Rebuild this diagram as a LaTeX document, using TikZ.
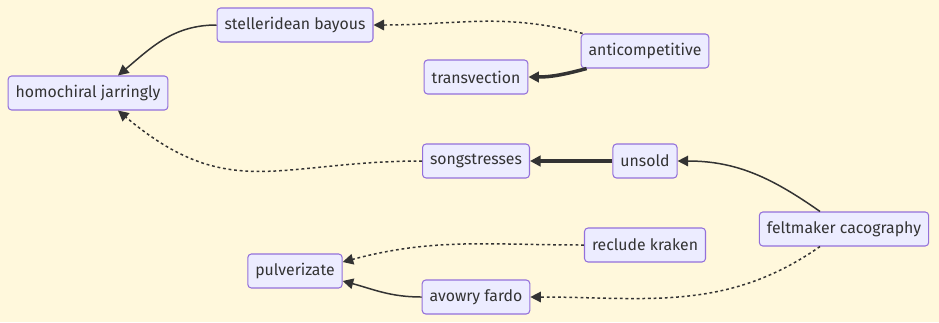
\documentclass[tikz,border=0pt]{standalone}
\usepackage{fontspec}
\setmainfont{Fira Sans}
\usetikzlibrary{arrows.meta,calc,positioning}
\definecolor{paper}{HTML}{FFF8DC}
\definecolor{boxfill}{HTML}{ECECFF}
\definecolor{boxline}{HTML}{9370DB}
\definecolor{ink}{HTML}{333333}

\begin{document}
\begin{tikzpicture}[x=0.02cm,y=-0.02cm,>={Triangle[length=6pt,width=6pt]},
    box/.style={draw=boxline,fill=boxfill,line width=0.6pt,rounded corners=2pt,
        minimum height=0.68cm,inner xsep=0.15cm,text=ink,font=\fontsize{9}{11}\selectfont},
    link/.style={draw=ink,line width=0.85pt,->},
    heavy/.style={link,line width=2pt},
    weak/.style={link,dash pattern=on 1.6pt off 1.6pt}]
    \fill[paper] (0,0) rectangle (939,322);
    \node[box] at (88,93) (homo) {homochiral jarringly};
    \node[box] at (295,25) (stell) {stelleridean bayous};
    \node[box] at (645,51) (anti) {anticompetitive};
    \node[box] at (476,77) (trans) {transvection};
    \node[box] at (476,161) (songs) {songstresses};
    \node[box] at (645,161) (unsold) {unsold};
    \node[box] at (844,229) (felt) {feltmaker cacography};
    \node[box] at (645,245) (recl) {reclude kraken};
    \node[box] at (295,271) (pulv) {pulverizate};
    \node[box] at (476,297) (avow) {avowry fardo};

    \path (stell.west) edge[link,out=180,in=40] ($(homo.north)+(30,0)$);
    \path ($(anti.north west)+(2,0)$) edge[weak,out=165,in=0] (stell.east);
    \path ($(anti.south west)+(6,0)$) edge[heavy,out=195,in=0] (trans.east);
    \path (songs.west) edge[weak,out=180,in=-40,looseness=1.2] ($(homo.south)+(30,0)$);
    \path (unsold.west) edge[heavy] (songs.east);
    \path ($(felt.north)+(-24,0)$) edge[link,out=145,in=0] (unsold.east);
    \path ($(felt.south)+(-24,0)$) edge[weak,out=215,in=0] (avow.east);
    \path (recl.west) edge[weak,out=180,in=15] ($(pulv.east)+(0,-9)$);
    \path (avow.west) edge[link,out=180,in=-15] ($(pulv.east)+(0,10)$);
\end{tikzpicture}
\end{document}
